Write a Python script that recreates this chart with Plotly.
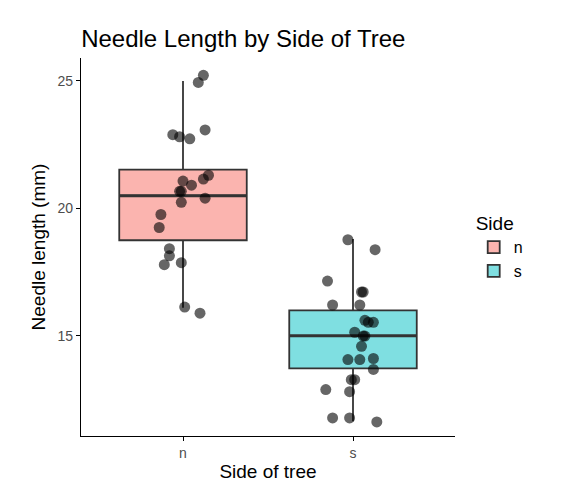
import plotly.graph_objects as go

sides = ["n", "s"]
fills = ["rgba(248,118,109,0.55)", "rgba(0,191,196,0.5)"]

# box stats per side: lower whisker, q1, median, q3, upper whisker
lower = [16.1, 11.65]
q1 = [18.75, 13.72]
median = [20.5, 15.0]
q3 = [21.52, 16.0]
upper = [25.0, 18.8]

# jittered points: x offset (category units), needle length
n_off = [0.12, 0.09, -0.06, -0.02, 0.04, 0.13, 0.15, 0.0, 0.05, -0.01, 0.12, -0.02,
         0.13, -0.01, -0.13, -0.14, -0.08, -0.08, -0.11, -0.01, 0.01, 0.10]
n_len = [25.22, 24.94, 22.89, 22.81, 22.73, 23.08, 21.30, 21.07, 20.91, 20.67, 21.15, 20.67,
         20.40, 20.24, 19.76, 19.25, 18.42, 18.14, 17.79, 17.87, 16.13, 15.89]
s_off = [-0.03, 0.13, -0.15, -0.12, 0.04, 0.05, 0.06, 0.07, 0.09, 0.12, 0.01, 0.07,
         0.06, 0.05, -0.03, 0.04, 0.12, 0.12, 0.01, -0.16, -0.02, -0.01, -0.12, -0.02, 0.14]
s_len = [18.77, 18.38, 17.15, 16.21, 16.21, 16.72, 16.72, 15.61, 15.53, 15.53, 15.14, 14.99,
         14.99, 14.59, 14.07, 14.07, 14.11, 13.68, 13.28, 12.89, 12.81, 13.28, 11.78, 11.78, 11.62]

fig = go.Figure()
for i, side in enumerate(sides):
    fig.add_trace(go.Box(
        x=[i + 1], q1=[q1[i]], median=[median[i]], q3=[q3[i]],
        lowerfence=[lower[i]], upperfence=[upper[i]],
        width=0.75, whiskerwidth=0, fillcolor=fills[i], name=side,
        line=dict(color="#333333", width=1.8),
        boxpoints=False, hoverinfo="y",
    ))
    # thicker median line
    fig.add_trace(go.Scatter(
        x=[i + 1 - 0.375, i + 1 + 0.375], y=[median[i], median[i]], mode="lines",
        line=dict(color="#333333", width=3), showlegend=False, hoverinfo="skip",
    ))

for i, (off, vals) in enumerate([(n_off, n_len), (s_off, s_len)]):
    fig.add_trace(go.Scatter(
        x=[i + 1 + o for o in off], y=vals, mode="markers",
        marker=dict(size=11, color="rgba(0,0,0,0.6)"),
        showlegend=False,
    ))

axis_common = dict(
    showgrid=False, zeroline=False, showline=True, linecolor="black", linewidth=1.2,
    ticks="outside", ticklen=4, tickcolor="black", automargin=False,
    tickfont=dict(size=14, color="#4d4d4d"),
)

fig.update_layout(
    width=576, height=499,
    plot_bgcolor="white", paper_bgcolor="white",
    font=dict(family="Liberation Sans, Arial, sans-serif", color="black"),
    title=dict(text="Needle Length by Side of Tree", x=0.127, xanchor="left",
               y=0.955, font=dict(size=24)),
    margin=dict(l=73, r=129, t=50, b=71),
    xaxis=dict(axis_common, tickvals=[1, 2], ticktext=sides, range=[0.4, 2.6],
               title=dict(text="Side of tree", font=dict(size=19), standoff=4)),
    yaxis=dict(axis_common, tickvals=[15, 20, 25], range=[11.07, 25.9],
               title=dict(text="Needle length (mm)", font=dict(size=19), standoff=6)),
    legend=dict(title=dict(text="Side", font=dict(size=19)), font=dict(size=16),
                x=1.05, y=0.5, yanchor="middle", tracegroupgap=10),
)

fig.write_html("out.html")
